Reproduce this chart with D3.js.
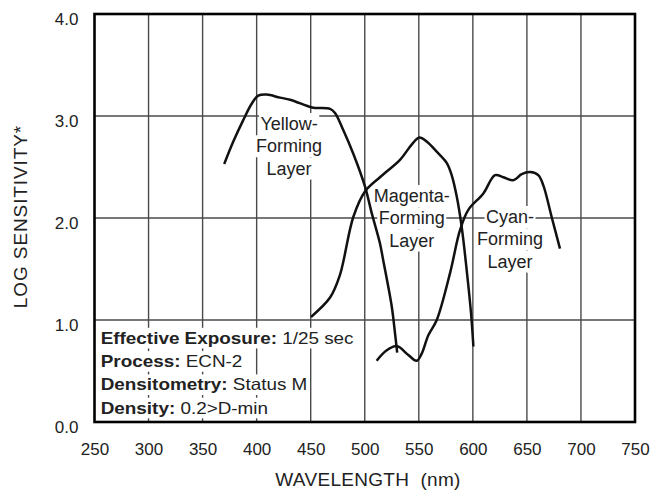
<!DOCTYPE html>
<html><head><meta charset="utf-8">
<script src="https://cdn.jsdelivr.net/npm/d3@7"></script>
<style>body{margin:0;background:#fff}svg{display:block}text{font-family:"Liberation Sans",Arial,sans-serif}</style>
</head><body><svg id="c" width="656" height="491"></svg>
<script>
const xTicks = [250,300,350,400,450,500,550,600,650,700,750];
const yTicks = [0,1,2,3,4];
const yellowW = [370,378.4,387.6,395.4,401.5,409.3,421.6,430.9,446.3,452.4,467.9,472.5,480.2,489.4,500.2,506.4,514.1,517,525,528,530];
const yellowV = [2.53,2.75,2.96,3.12,3.20,3.21,3.18,3.16,3.10,3.08,3.07,3.03,2.86,2.63,2.31,2.05,1.75,1.59,1.13,0.87,0.68];
const magentaW = [450.3,467.9,477,489.4,500.2,514.1,532.6,543.4,550.5,557.3,566.6,575.8,580.4,585.1,589.7,594.3,598.3,600.5];
const magentaV = [1.03,1.22,1.44,2.01,2.26,2.40,2.57,2.72,2.79,2.75,2.65,2.54,2.42,2.21,1.91,1.49,1.07,0.74];
const cyanW = [511,520,529.5,540,548,552.7,558.8,566.6,578.9,588.1,595.8,609.7,620.5,628.2,637.4,645.2,652.9,660.5,665.2,672.9,680.6];
const cyanV = [0.60,0.70,0.745,0.66,0.60,0.67,0.85,1.0,1.46,1.88,2.08,2.24,2.42,2.40,2.37,2.43,2.45,2.42,2.32,2.01,1.70];
const curveLabels = [
  {lines:["Yellow-","Forming","Layer"], w:430, v:2.863},
  {lines:["Magenta-","Forming","Layer"], w:543.5, v:2.157},
  {lines:["Cyan-","Forming","Layer"], w:634.4, v:1.951}
];
const notes = [["Effective Exposure:"," 1/25 sec"],["Process:"," ECN-2"],["Densitometry:"," Status M"],["Density:"," 0.2>D-min"]];

const svg = d3.select("#c");
const L=94.5, R=635, T=14, B=422;
const x = d3.scaleLinear().domain([250,750]).range([L,R]);
const y = d3.scaleLinear().domain([0,4]).range([B,T]);
const FONT = "Liberation Sans, Arial, sans-serif";

// grid
svg.append("g").selectAll("line").data(xTicks.slice(1,-1)).join("line")
  .attr("x1",d=>x(d)).attr("x2",d=>x(d)).attr("y1",T).attr("y2",B)
  .attr("stroke","#4a4a4a").attr("stroke-width",1.4);
svg.append("g").selectAll("line").data(yTicks.slice(1,-1)).join("line")
  .attr("y1",d=>y(d)).attr("y2",d=>y(d)).attr("x1",L).attr("x2",R)
  .attr("stroke","#4a4a4a").attr("stroke-width",1.4);

// axes labels via d3 axes
const xa = svg.append("g").attr("transform",`translate(0,${B})`)
  .call(d3.axisBottom(x).tickValues(xTicks).tickSize(0).tickPadding(21).tickFormat(d3.format("d")));
xa.select(".domain").remove();
xa.selectAll("text").attr("font-size",17).attr("fill","#222").style("font-family",FONT);
const ya = svg.append("g").attr("transform",`translate(${L},0)`)
  .call(d3.axisLeft(y).tickValues(yTicks).tickSize(0).tickPadding(16).tickFormat(d3.format(".1f")));
ya.select(".domain").remove();
ya.selectAll("text").attr("font-size",17).attr("fill","#222").attr("dy","0.6em").style("font-family",FONT);

svg.append("text").attr("x",368).attr("y",486).attr("text-anchor","middle")
  .attr("font-size",19).attr("letter-spacing",0.3).attr("fill","#222").attr("xml:space","preserve").text("WAVELENGTH  (nm)");
svg.append("text").attr("transform","translate(27.3,216.5) rotate(-90)").attr("text-anchor","middle")
  .attr("font-size",19).attr("letter-spacing",0.9).attr("fill","#222").text("LOG SENSITIVITY*");

// labels with white backgrounds
function bgText(g, anchor, size, content){
  const t = g.append("text").attr("x",0).attr("y",0).attr("text-anchor",anchor)
    .attr("font-size",size).attr("fill","#222");
  content(t);
  const bb = t.node().getBBox();
  g.insert("rect","text").attr("x",bb.x-1.5).attr("y",bb.y-1).attr("width",bb.width+3).attr("height",bb.height+2).attr("fill","#fff");
  return t;
}
const lg = svg.append("g");
curveLabels.forEach(cl=>{
  cl.lines.forEach((s,i)=>{
    const gg = lg.append("g").attr("transform",`translate(${x(cl.w)},${y(cl.v)+i*22.3})`);
    bgText(gg, "middle", 18, t=>t.text(s));
  });
});
notes.forEach((n,i)=>{
  const gg = lg.append("g").attr("transform",`translate(100.7,${343.7+i*23.3}) scale(1.145,1)`);
  bgText(gg, "start", 16.5, t=>{
    t.append("tspan").attr("font-weight","bold").text(n[0]);
    t.append("tspan").text(n[1]);
  });
});

// curves
const line = d3.line().x(d=>x(d[0])).y(d=>y(d[1])).curve(d3.curveCatmullRom.alpha(0.5));
[[yellowW,yellowV],[magentaW,magentaV],[cyanW,cyanV]].forEach(([w,v])=>{
  svg.append("path").attr("d",line(d3.zip(w,v))).attr("fill","none")
    .attr("stroke","#111").attr("stroke-width",2.5).attr("stroke-linejoin","round");
});

// frame
svg.append("rect").attr("x",L).attr("y",T).attr("width",R-L).attr("height",B-T)
  .attr("fill","none").attr("stroke","#000").attr("stroke-width",2.6);
</script></body></html>
